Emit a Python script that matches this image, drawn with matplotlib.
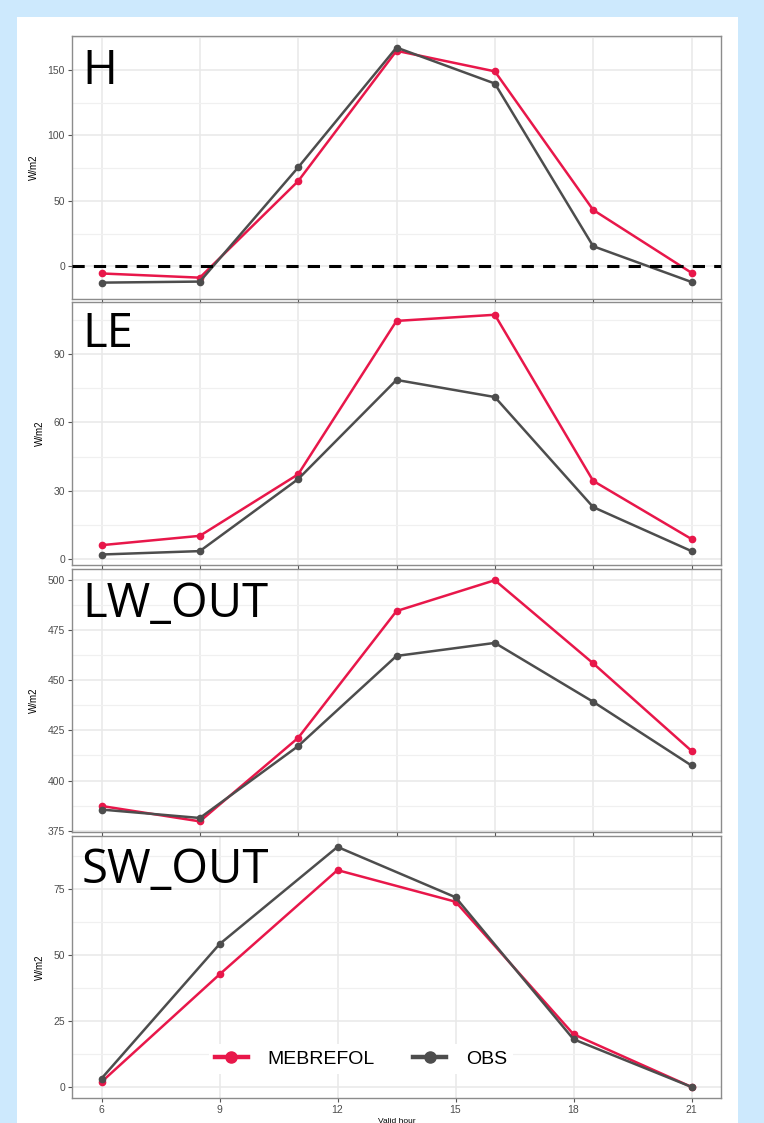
import numpy as np
import matplotlib
matplotlib.use('Agg')
import matplotlib.pyplot as plt
from matplotlib.lines import Line2D
from matplotlib.patches import Rectangle

plt.rcParams['font.family'] = ['Liberation Sans', 'DejaVu Sans']

# hours of the model output (upper three panels) and of the SW panel
hours_flux = [6, 8.5, 11, 13.5, 16, 18.5, 21]
hours_sw = [6, 9, 12, 15, 18, 21]

H_mebrefol = [-5.5, -8.7, 65, 164.5, 148.8, 43, -5]
H_obs = [-12.5, -11.7, 75.5, 167, 139.5, 15.3, -12]

LE_mebrefol = [6.1, 10.2, 37.2, 104.5, 107.2, 34.3, 8.8]
LE_obs = [2.0, 3.5, 35.1, 78.6, 71.1, 22.8, 3.5]

LW_mebrefol = [387.3, 379.6, 421.3, 484.6, 500.0, 458.5, 414.8]
LW_obs = [385.5, 381.3, 417.2, 462.2, 468.7, 439.3, 407.5]

SW_mebrefol = [1.9, 42.7, 82.3, 70.3, 20.0, 0.0]
SW_obs = [3.2, 54.2, 91.1, 72.0, 18.1, 0.0]

RED = '#e8174a'
GREY = '#4d4d4d'

W, Hpx = 764, 1123
fig = plt.figure(figsize=(W / 100, Hpx / 100), dpi=100)
fig.patch.set_facecolor('#cde9fd')
fig.patches.append(Rectangle((17 / W, 0), (738 - 17) / W, 1 - 17 / Hpx,
                             transform=fig.transFigure, facecolor='white',
                             edgecolor='none', zorder=-10))


def make_ax(top, bottom):
    left, right = 72, 721
    return fig.add_axes([left / W, 1 - bottom / Hpx, (right - left) / W, (bottom - top) / Hpx])


panels = [
    ('H', 36, 299, hours_flux, H_mebrefol, H_obs, (-21.2, 175.8), [0, 50, 100, 150], [-25, 25, 75, 125, 175]),
    ('LE', 302, 565, hours_flux, LE_mebrefol, LE_obs, (-2.6, 112.8), [0, 30, 60, 90], [15, 45, 75, 105]),
    ('LW_OUT', 569, 832, hours_flux, LW_mebrefol, LW_obs, (374.3, 505.6), [375, 400, 425, 450, 475, 500],
     [387.5, 412.5, 437.5, 462.5, 487.5]),
    ('SW_OUT', 836, 1098, hours_sw, SW_mebrefol, SW_obs, (-4.2, 95.25), [0, 25, 50, 75], [12.5, 37.5, 62.5, 87.5]),
]

axes = []
for i, (name, top, bottom, x, mod, obs, ylim, yt, ymin) in enumerate(panels):
    ax = make_ax(top, bottom)
    axes.append(ax)
    ax.set_facecolor('none')
    ax.set_xlim(5.25, 21.75)
    ax.set_ylim(*ylim)
    ax.set_yticks(yt)
    ax.set_yticks(ymin, minor=True)
    ax.set_xticks(x)
    ax.grid(True, which='major', color='#e8e8e8', linewidth=1.1, zorder=0)
    ax.grid(True, which='minor', axis='y', color='#f0f0f0', linewidth=0.9, zorder=0)
    ax.tick_params(which='minor', length=0)
    ax.tick_params(which='major', length=3, width=0.8, color='#555555',
                   labelsize=7.5, labelcolor='#4d4d4d', pad=2)
    for s in ax.spines.values():
        s.set_color('#8c8c8c')
        s.set_linewidth(1.0)
    ax.set_axisbelow(True)
    ax.plot(x, mod, color=RED, lw=1.8, marker='o', ms=4.5, zorder=3)
    ax.plot(x, obs, color=GREY, lw=1.8, marker='o', ms=4.5, zorder=3)
    ax.set_ylabel('W/m2', fontsize=7, labelpad=6)
    if i < 3:
        ax.set_xticklabels([])
    else:
        ax.set_xticklabels([str(v) for v in x])
        ax.set_xlabel('Valid hour', fontsize=6, labelpad=2)

axes[0].axhline(0, color='black', lw=2.2, ls=(0, (4, 3)), zorder=4)

# panel names
label_base = [84, 347, 617, 883]
for (name, *_), yb in zip(panels, label_base):
    fig.text(82 / W, 1 - yb / Hpx, name, fontsize=34, family=['Open Sans', 'DejaVu Sans'],
             va='baseline', ha='left', color='black')

handles = [Line2D([], [], color=RED, lw=3.2, marker='o', ms=8),
           Line2D([], [], color=GREY, lw=3.2, marker='o', ms=8)]
leg = axes[3].legend(handles, ['MEBREFOL', 'OBS'], loc='center', bbox_to_anchor=(0.445, 0.149),
                     ncol=2, frameon=True, fontsize=14, handlelength=1.7, handletextpad=1.0,
                     columnspacing=2.0, borderpad=0.3)
leg.get_frame().set_facecolor('white')
leg.get_frame().set_edgecolor('none')
leg.get_frame().set_alpha(1)

fig.savefig('out.png', dpi=100, facecolor=fig.get_facecolor())
